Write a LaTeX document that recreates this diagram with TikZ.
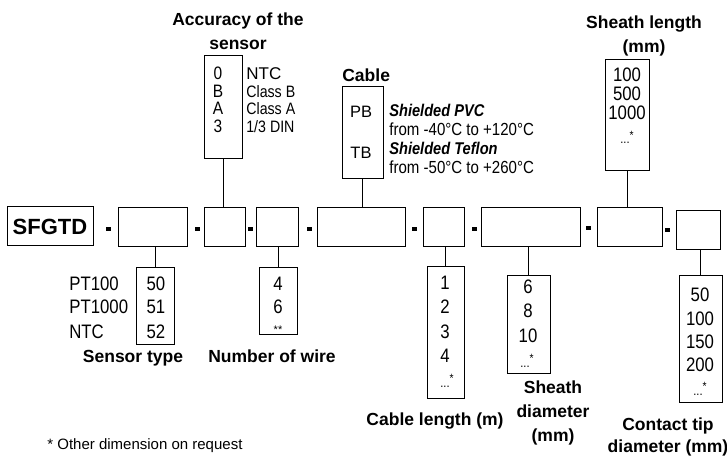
\documentclass[tikz,border=0pt]{standalone}
\usepackage{fontspec}
\setmainfont{Liberation Sans}
\newfontfamily\narrowfont{Liberation Sans}[FakeStretch=0.86]
\newcommand{\moredots}{{\fontsize{13}{13}\selectfont...}\raisebox{5pt}{\fontsize{12}{12}\selectfont*}}

\begin{document}
\begin{tikzpicture}[x=1pt, y=-1pt, line width=0.7pt,
  field/.style={draw, inner sep=0pt, minimum height=39pt},
  optbox/.style={draw, inner sep=0pt},
  sepdash/.style={fill, inner sep=0pt, minimum width=5pt, minimum height=4pt},
  ttl/.style={font=\bfseries\fontsize{17.5}{24}\selectfont, align=center, anchor=base, inner sep=0pt},
  val/.style={font=\narrowfont\fontsize{19.5}{22}\selectfont, anchor=base, inner sep=0pt},
  accval/.style={font=\narrowfont\fontsize{18}{20}\selectfont, anchor=base, inner sep=0pt},
  note/.style={font=\narrowfont\fontsize{16.5}{19}\selectfont, anchor=base west, inner sep=0pt},
  desc/.style={font=\narrowfont\fontsize{17.5}{20}\selectfont, anchor=base west, inner sep=0pt}]
  \useasboundingbox (0,0) rectangle (727,457);

  \node[field, minimum width=86pt] (code) at (50,225.5) {};
  \node[font=\bfseries\fontsize{22}{24}\selectfont, anchor=base, inner sep=0pt] (codetxt) at (50,234) {SFGTD};
  \node[field, minimum width=69pt] (f1) at (152.5,227) {};
  \node[field, minimum width=41pt] (f2) at (224.5,227) {};
  \node[field, minimum width=42pt] (f3) at (277,227) {};
  \node[field, minimum width=88pt] (f4) at (361,227) {};
  \node[field, minimum width=41pt] (f5) at (443.5,227) {};
  \node[field, minimum width=99pt] (f6) at (530.5,227) {};
  \node[field, minimum width=65pt] (f7) at (629.5,227) {};
  \node[field, minimum width=44pt] (f8) at (698,229.5) {};

  \node[sepdash] (d1) at (108,229) {};
  \node[sepdash] (d2) at (197,229) {};
  \node[sepdash] (d3) at (250,229) {};
  \node[sepdash] (d4) at (309,229) {};
  \node[sepdash] (d5) at (414,229) {};
  \node[sepdash] (d6) at (474,229) {};
  \node[sepdash] (d7) at (588,228) {};
  \node[sepdash] (d8) at (667,230) {};

  \node[optbox, minimum width=38pt, minimum height=103pt] (acc) at (223,106.5) {};
  \node[ttl] (acctitle) at (238,50) {Accuracy of the\\sensor};
  \node[accval] (a0) at (218,80) {0};
  \node[accval] (aB) at (218,97.5) {B};
  \node[accval] (aA) at (218,115) {A};
  \node[accval] (a3) at (218,132.5) {3};
  \node[val, font=\fontsize{17}{20}\selectfont, anchor=base west] (ntc) at (246,80) {NTC};
  \node[note] (clb) at (246,97.5) {Class B};
  \node[note] (cla) at (246,115) {Class A};
  \node[note] (din) at (246,132.5) {1/3 DIN};

  \node[optbox, minimum width=41pt, minimum height=92pt] (cab) at (362.5,132) {};
  \node[ttl, anchor=base west] (cabtitle) at (342,82) {Cable};
  \node[val, font=\fontsize{16.5}{18}\selectfont] (pb) at (361,118) {PB};
  \node[val, font=\fontsize{16.5}{18}\selectfont] (tb) at (361,158) {TB};
  \node[desc, font=\narrowfont\bfseries\itshape\fontsize{17}{20}\selectfont] (pvc) at (389,117) {Shielded PVC};
  \node[desc] (pvcr) at (389,136) {from -40°C to +120°C};
  \node[desc, font=\narrowfont\bfseries\itshape\fontsize{17}{20}\selectfont] (tef) at (389,154) {Shielded Teflon};
  \node[desc] (tefr) at (389,173) {from -50°C to +260°C};

  \node[optbox, minimum width=44pt, minimum height=111pt] (shl) at (627,114.5) {};
  \node[ttl] (shltitle) at (644,53) {Sheath length\\(mm)};
  \node[val] (l100) at (627,82) {100};
  \node[val] (l500) at (627,101) {500};
  \node[val] (l1000) at (627,119.5) {1000};
  \node[val] (lmore) at (627,144) {\moredots};

  \node[optbox, minimum width=38pt, minimum height=77pt] (typ) at (155,305.5) {};
  \node[val] (t50) at (156,290) {50};
  \node[val] (t51) at (156,313.5) {51};
  \node[val] (t52) at (156,338) {52};
  \node[val, anchor=base west] (pt1) at (69,290) {PT100};
  \node[val, anchor=base west] (pt2) at (69,313.5) {PT1000};
  \node[val, anchor=base west] (pt3) at (69,338) {NTC};
  \node[ttl] (typtitle) at (133,362) {Sensor type};

  \node[optbox, minimum width=38pt, minimum height=67pt] (wir) at (278,300.5) {};
  \node[val] (w4) at (278,290) {4};
  \node[val] (w6) at (278,313.5) {6};
  \node[val, font=\fontsize{11}{12}\selectfont] (wmore) at (278,333) {**};
  \node[ttl] (wirtitle) at (272,362) {Number of wire};

  \node[optbox, minimum width=37pt, minimum height=132pt] (cbl) at (445.5,332) {};
  \node[val] (c1) at (445,289) {1};
  \node[val] (c2) at (445,313) {2};
  \node[val] (c3) at (445,338) {3};
  \node[val] (c4) at (445,362) {4};
  \node[val] (cmore) at (447,387) {\moredots};
  \node[ttl] (cbltitle) at (435,425) {Cable length (m)};

  \node[optbox, minimum width=43pt, minimum height=98pt] (shd) at (528.5,324) {};
  \node[val] (s6) at (528,293) {6};
  \node[val] (s8) at (528,317) {8};
  \node[val] (s10) at (528,342) {10};
  \node[val] (smore) at (527,367) {\moredots};
  \node[ttl] (shdtitle) at (553,441) {Sheath\\diameter\\(mm)};

  \node[optbox, minimum width=43pt, minimum height=127pt] (tip) at (700.5,338.5) {};
  \node[val] (p50) at (700,301.5) {50};
  \node[val] (p100) at (700,325) {100};
  \node[val] (p150) at (700,348.5) {150};
  \node[val] (p200) at (700,371) {200};
  \node[val] (pmore) at (700,395) {\moredots};
  \node[ttl, font=\bfseries\fontsize{17.5}{22}\selectfont] (tiptitle) at (668,452) {Contact tip\\diameter (mm)};

  \node[desc, font=\fontsize{15}{18}\selectfont] (footnote) at (47,449) {* Other dimension on request};

  \draw (acc.south) -- (acc.south |- f2.north) (cab.south) -- (cab.south |- f4.north)
        (shl.south) -- (shl.south |- f7.north)
        (typ.north) -- (typ.north |- f1.south) (wir.north) -- (wir.north |- f3.south)
        (cbl.north) -- (cbl.north |- f5.south) (shd.north) -- (shd.north |- f6.south)
        (tip.north) -- (tip.north |- f8.south);
\end{tikzpicture}
\end{document}
